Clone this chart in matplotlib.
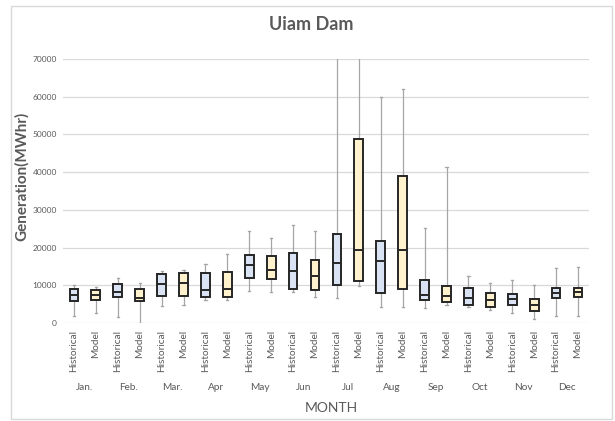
import matplotlib
matplotlib.use("Agg")
import matplotlib.pyplot as plt
from matplotlib.patches import Rectangle
import matplotlib.transforms as mtransforms

plt.rcParams["font.family"] = ["Lato", "DejaVu Sans"]

months = ["Jan.", "Feb.", "Mar.", "Apr", "May", "Jun",
          "Jul", "Aug", "Sep", "Oct", "Nov", "Dec"]
groups = ["Historical", "Model"]

# five-number summaries, alternating Historical / Model per month
whislo = [1960, 2760, 1600, 0, 4620, 4890, 6030, 6030, 8420, 8160, 8160, 7020,
          6740, 9830, 4250, 4360, 3900, 4700, 4170, 3460, 2760, 1170, 1960, 1960]
q1 = [5850, 6210, 6910, 5770, 7180, 7180, 6910, 7020, 11800, 11610, 8960, 8870,
      10100, 11080, 7890, 9140, 6030, 5500, 4700, 4360, 4890, 3290, 6740, 7020]
med = [7450, 7450, 8330, 6740, 10370, 10630, 8770, 9140, 15250, 14090, 13740, 12330,
       15780, 19320, 16480, 19320, 7540, 7100, 6650, 6210, 6480, 4890, 8080, 8240]
q3 = [9040, 8690, 10370, 8960, 13020, 13210, 13290, 13550, 17990, 17810, 18440, 16740,
      23490, 48900, 21630, 39060, 11350, 9830, 9300, 7890, 7710, 6380, 9410, 9410]
whishi = [10200, 9570, 12060, 10730, 13740, 14090, 15600, 18260, 24290, 22430, 25880, 24290,
          76000, 82000, 59900, 61920, 25080, 41380, 12490, 10730, 11530, 10100, 14450, 14880]

fills = {"Historical": "#dae3f3", "Model": "#fff2cc"}
text_gray = "#595959"

fig = plt.figure(figsize=(6.15, 4.21), dpi=100)
ax = fig.add_axes([0.1024, 0.2328, 0.8553, 0.6271])

n = len(med)
positions = list(range(1, n + 1))
stats = []
for i in range(n):
    stats.append({"whislo": whislo[i], "q1": q1[i], "med": med[i],
                  "q3": q3[i], "whishi": whishi[i], "fliers": []})

bp = ax.bxp(stats, positions=positions, widths=0.4, patch_artist=True,
            showfliers=False, capwidths=0.1,
            boxprops=dict(edgecolor="#262626", linewidth=1.4),
            medianprops=dict(color="#262626", linewidth=1.4),
            whiskerprops=dict(color="#a6a6a6", linewidth=0.9),
            capprops=dict(color="#a6a6a6", linewidth=0.9))
for i, box in enumerate(bp["boxes"]):
    box.set_facecolor(fills[groups[i % 2]])
    box.set_zorder(3)
for m in bp["medians"]:
    m.set_zorder(4)

ax.set_xlim(0.5, n + 0.5)
ax.set_ylim(0, 70000)
ax.set_yticks(range(0, 70001, 10000))
ax.yaxis.grid(True, color="#d9d9d9", linewidth=0.9)
ax.set_axisbelow(True)
for s in ax.spines.values():
    s.set_visible(False)
ax.tick_params(axis="both", length=0, colors=text_gray)
ax.tick_params(axis="y", pad=4.5, labelsize=6)

ax.set_xticks(positions)
ax.set_xticklabels([groups[i % 2] for i in range(n)], rotation=90,
                   fontsize=7.2, color=text_gray)
ax.tick_params(axis="x", pad=5)

trans = mtransforms.blended_transform_factory(ax.transData, fig.transFigure)
for k, name in enumerate(months):
    ax.text(2 * k + 1.5, 1 - 388 / 421, name, transform=trans, ha="center",
            va="center", fontsize=7.2, color=text_gray)

fig.text(331 / 615, 1 - 408 / 421, "MONTH", ha="center", va="center",
         fontsize=10, color=text_gray)
fig.text(22 / 615, 1 - 176 / 421, "Generation(MWhr)", rotation=90, ha="center",
         va="center", fontsize=11, fontweight="bold", color=text_gray)
fig.text(311 / 615, 1 - 25 / 421, "Uiam Dam", ha="center", va="center",
         fontsize=13, fontweight="bold", color=text_gray)

fig.patches.append(Rectangle((11 / 615, 2 / 421), 601 / 615, 413 / 421,
                             transform=fig.transFigure, fill=False,
                             edgecolor="#d9d9d9", linewidth=1))

fig.savefig("out.png", dpi=100)
